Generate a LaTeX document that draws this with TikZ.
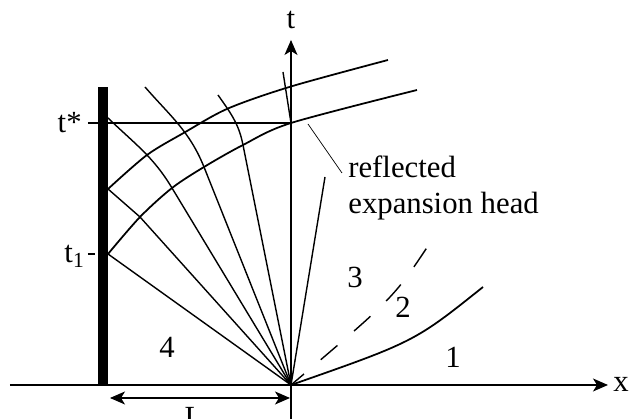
\documentclass[tikz,border=0pt]{standalone}
\usepackage{fontspec}
\setmainfont{Liberation Serif}
\usetikzlibrary{arrows.meta}
\begin{document}
\begin{tikzpicture}[every node/.style={font=\fontsize{17.5}{20}\selectfont, inner sep=0pt}, >={Stealth[length=3mm, width=2.6mm, inset=0.8mm]}, ax/.style={line width=0.6pt}, fan/.style={line width=0.8pt}, wave/.style={line width=1pt}]
	\useasboundingbox (-5.82,-0.68) rectangle (6.78,7.7);
	\coordinate (o) at (0,0);
	\coordinate (xa) at (-5.62,0);
	\coordinate (xb) at (6.34,0);
	\coordinate (ta) at (0,-0.68);
	\coordinate (tb) at (0,6.9);
	\coordinate (w1) at (-3.66,2.62);
	\coordinate (w2) at (-3.66,3.92);
	\coordinate (w3) at (-3.66,5.34);
	\coordinate (h2) at (-3.02,3.36);
	\coordinate (h3) at (-2.38,3.94);
	\coordinate (h4) at (-1.74,4.36);
	\coordinate (h5) at (-0.96,4.8);
	\coordinate (h6) at (0,5.24);
	\coordinate (h7) at (2.52,5.9);
	\coordinate (u3) at (-2.88,4.6);
	\coordinate (u4) at (-2.13,5.05);
	\coordinate (u5) at (-1.26,5.53);
	\coordinate (u6) at (0,5.97);
	\coordinate (u7) at (1.94,6.5);
	\coordinate (lead) at (0.34,5.22);
	\coordinate (la) at (-3.62,-0.26);
	\coordinate (lb) at (-0.02,-0.26);
	\fill (-3.86,0) rectangle (-3.66,5.96);
	\draw[ax, ->] (xa) -- (xb);
	\draw[ax, ->] (ta) -- (tb);
	\node (xl) at (6.6,0.02) {x};
	\node (tl) at (0,7.29) {t};
	\node[anchor=east] (tstar) at (-4.18,5.24) {t*};
	\node[anchor=base east] (tone) at (-4.12,2.44) {t\textsubscript{1}};
	\draw[ax, shorten <=0.12cm] (tstar.east) -- (h6);
	\draw[line width=1.2pt] ([xshift=0.06cm]tone.east |- w1) -- ++(0.14,0);
	\draw[fan] (o) -- (w1);
	\draw[fan] (o) -- (h2) -- (w2);
	\draw[fan] (o) -- (h3) to[out=121, in=-44] (w3);
	\draw[fan] (o) -- (h4) to[out=112, in=-49] (-2.92,5.96);
	\draw[fan] (o) -- (h5) to[out=101, in=-55] (-1.46,5.8);
	\draw[fan] (o) -- (h6) -- (-0.16,6.26);
	\draw[fan] (o) -- (0.68,4.16);
	\draw[wave] plot[smooth] coordinates {(w1) (h2) (h3) (h4) (h5) (h6) (h7)};
	\draw[wave] plot[smooth] coordinates {(w2) (u3) (u4) (u5) (u6) (u7)};
	\draw[fan, dash pattern=on 0.44cm off 0.44cm, dash phase=0.1cm] (o) .. controls (2.05,1.74) .. (2.78,2.84);
	\draw[wave] (o) .. controls (2.47,0.865) .. (3.84,1.96);
	\node[anchor=north west, align=left] (lbl) at (1.14,4.58) {reflected\\expansion head};
	\draw[thin] (lead) -- ([xshift=-0.12cm, yshift=-0.34cm]lbl.north west);
	\node (r1) at (3.24,0.56) {1};
	\node (r2) at (2.24,1.56) {2};
	\node (r3) at (1.28,2.16) {3};
	\node (r4) at (-2.48,0.76) {4};
	\draw[ax, <->] (la) -- (lb);
	\node[anchor=north] (len) at (-1.94,-0.44) {L};
\end{tikzpicture}
\end{document}
